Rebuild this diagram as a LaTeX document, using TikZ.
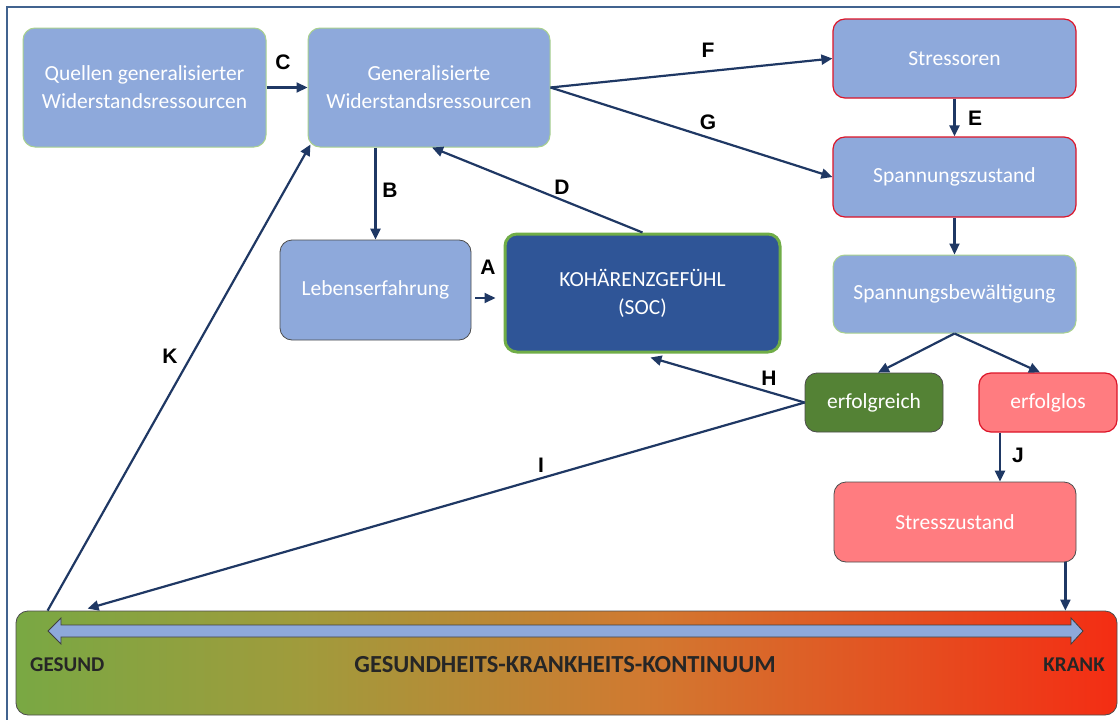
\documentclass[tikz,border=0pt]{standalone}
\usepackage{fontspec}
\usetikzlibrary{arrows.meta,calc}
\newfontfamily\carlito{Carlito}
\newfontfamily\lsans{Liberation Sans}
\definecolor{boxblue}{RGB}{142,169,219}
\definecolor{darkblue}{RGB}{47,85,151}
\definecolor{lgreen}{RGB}{169,209,142}
\definecolor{sgreen}{RGB}{112,173,71}
\definecolor{okgreen}{RGB}{84,130,53}
\definecolor{lred}{RGB}{255,124,128}
\definecolor{bred}{RGB}{220,20,40}
\definecolor{navy}{RGB}{31,56,100}
\definecolor{frame}{RGB}{65,99,143}
\definecolor{cgreen}{RGB}{112,171,69}
\definecolor{colive}{RGB}{160,155,60}
\definecolor{corange}{RGB}{210,120,48}
\definecolor{cred}{RGB}{255,20,10}
\pgfdeclarehorizontalshading{cont}{100bp}{color(0bp)=(cgreen); color(22bp)=(cgreen); color(38bp)=(colive); color(54bp)=(corange); color(82bp)=(cred); color(100bp)=(cred)}
\tikzset{
  box/.style={rounded corners=12pt, draw=lgreen, line width=1pt, fill=boxblue, text=white, align=center,
    font=\carlito\fontsize{21.5}{28}\selectfont, inner sep=0pt},
  redbox/.style={box, draw=bred, line width=1.2pt},
  darkbox/.style={box, draw=black!70, line width=0.8pt},
  arr/.style={draw=navy, line width=2.2pt, -{Triangle[length=11pt,width=10pt]}},
  lbl/.style={font=\lsans\bfseries\fontsize{21}{24}\selectfont, text=black, inner sep=0pt},
}
\begin{document}
\begin{tikzpicture}[x=1pt,y=-1pt]
\useasboundingbox (0,0) rectangle (1120,720);
\fill[white] (0,0) rectangle (1120,720);
\draw[frame, line width=2pt] (7,7) rectangle (1135,735);

% nodes
\node[box, minimum width=243pt, minimum height=119pt] (q) at (144.5,87.5) {Quellen generalisierter\\Widerstandsressourcen};
\node[box, minimum width=242pt, minimum height=119pt] (g) at (429,87.5) {Generalisierte\\Widerstandsressourcen};
\node[darkbox, minimum width=191pt, minimum height=100pt] (l) at (375.5,290) {Lebenserfahrung};
\node[box, fill=darkblue, draw=sgreen, line width=3pt, minimum width=275pt, minimum height=118pt] (k) at (642.5,293) {KOHÄRENZGEFÜHL\\(SOC)};
\node[redbox, minimum width=243pt, minimum height=79pt] (s) at (954.5,58.5) {Stressoren};
\node[redbox, minimum width=243pt, minimum height=80pt] (z) at (954.5,177) {Spannungszustand};
\node[box, minimum width=243pt, minimum height=78pt] (b) at (954.5,294) {Spannungsbewältigung};
\node[darkbox, fill=okgreen, minimum width=138pt, minimum height=59pt] (r) at (874,402.5) {erfolgreich};
\node[redbox, fill=lred, minimum width=138pt, minimum height=59pt] (f) at (1048,402.5) {erfolglos};
\node[darkbox, fill=lred, minimum width=242pt, minimum height=80pt] (st) at (955,522) {Stresszustand};
\node[rounded corners=12pt, draw=black!70, line width=0.8pt, shading=cont, minimum width=1101pt, minimum height=104pt, inner sep=0pt] (c) at (566.5,663) {};

% double arrow in the continuum bar
\draw[black!75, line width=0.8pt, fill=boxblue]
  (48,631) -- (61,618) -- (61,625) -- (1071,625) -- (1071,618) -- (1083,631) -- (1071,644) -- (1071,637) -- (61,637) -- (61,644) -- cycle;
\node[font=\carlito\bfseries\fontsize{21}{24}\selectfont, text=black!85, anchor=west, inner sep=0pt] (gs) at (30,665) {GESUND};
\node[font=\carlito\bfseries\fontsize{21}{24}\selectfont, text=black!85, anchor=east, inner sep=0pt] (kr) at (1105,665) {KRANK};
\node[font=\carlito\bfseries\fontsize{24.5}{28}\selectfont, text=black!85, inner sep=0pt] (ct) at (565,665) {GESUNDHEITS-KRANKHEITS-KONTINUUM};

% connectors
\draw[arr] (q.east) -- (g.west);
\draw[arr] (g.south -| l.north) -- (l.north);
\draw[arr] (k.north) -- ([xshift=3pt]g.south);
\draw[arr, line width=2pt] ([xshift=4pt,yshift=-8pt]l.east) -- ([xshift=-8pt,yshift=-8pt]l.east -| k.west);
\draw[arr] (g.east) -- (s.west);
\draw[arr] (g.east) -- (z.west);
\draw[arr] (s.south) -- (z.north);
\draw[arr] (z.south) -- (b.north);
\draw[arr] (b.south) -- ([xshift=4pt]r.north);
\draw[arr] (b.south) -- ([xshift=-8pt]f.north);
\draw[arr] (r.west) -- ([xshift=8pt,yshift=-4pt]k.south);
\draw[arr] (r.west) -- ([xshift=72pt,yshift=2pt]c.north west);
\draw[arr] ([xshift=32pt]c.north west) -- ([xshift=3pt,yshift=3pt]g.south west);
\draw[arr] ([xshift=-48pt]f.south) -- ([xshift=-48pt]f.south |- st.north);
\draw[arr] ([xshift=-11pt]st.south east) -- ([xshift=-11pt]st.south east |- c.north);

% labels
\node[lbl] (lc) at (283,62) {C};
\node[lbl] (lb) at (390,190) {B};
\node[lbl] (ld) at (562,187) {D};
\node[lbl] (la) at (488,267) {A};
\node[lbl] (lf) at (708,50) {F};
\node[lbl] (lg) at (708,122) {G};
\node[lbl] (le) at (975,118) {E};
\node[lbl] (lh) at (769,378) {H};
\node[lbl] (li) at (541,465) {I};
\node[lbl] (lk) at (170,356) {K};
\node[lbl] (lj) at (1018,455) {J};
\end{tikzpicture}
\end{document}
